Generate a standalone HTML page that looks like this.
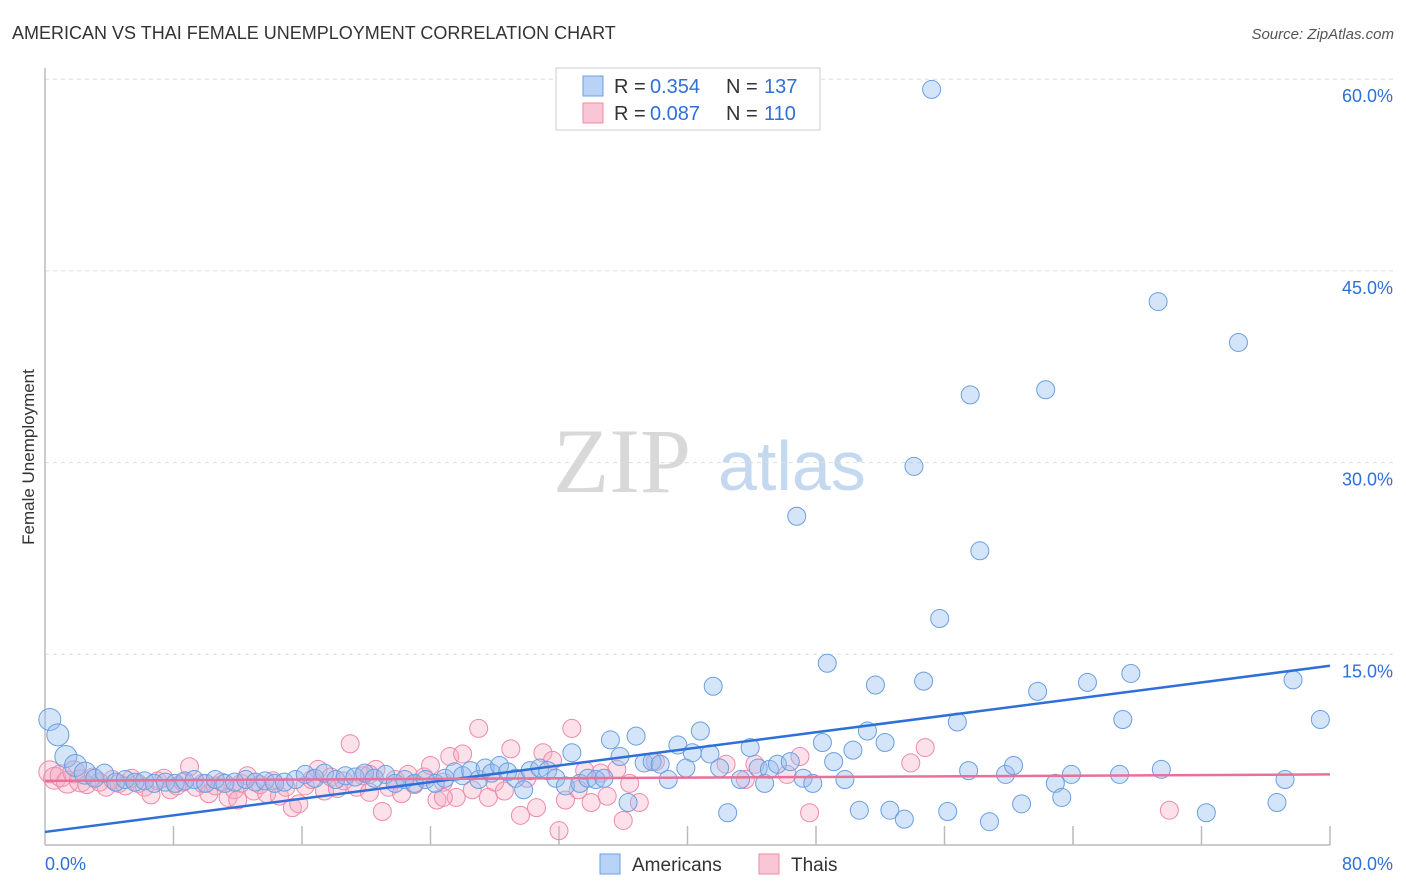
<!DOCTYPE html>
<html><head><meta charset="utf-8"><style>
body{margin:0;background:#fff;font-family:"Liberation Sans",sans-serif;}
svg{display:block}
</style></head><body>
<svg id="chart" width="1406" height="892">
<text x="12" y="39" font-size="18" fill="#333">AMERICAN VS THAI FEMALE UNEMPLOYMENT CORRELATION CHART</text>
<text x="1394" y="39" font-size="15" font-style="italic" fill="#555" text-anchor="end">Source: ZipAtlas.com</text>
<text x="34" y="457" font-size="17" fill="#333" text-anchor="middle" transform="rotate(-90 34 457)">Female Unemployment</text>
<g>
<text x="553" y="492" font-size="92" font-family="Liberation Serif,serif" fill="#d8d8d8">ZIP</text>
<text x="718" y="490" font-size="70" fill="#c4d8f0">atlas</text>
</g>
<g id="grid"></g>
<g id="axes"></g>
<g id="pts"></g>
<g id="lines"></g>
<g>
<rect x="556" y="68" width="264" height="62" fill="#fff" stroke="#ccc"/>
<rect x="583" y="76" width="20" height="20" fill="#b8d3f5" stroke="#6a9fe0"/>
<rect x="583" y="103" width="20" height="20" fill="#f9c6d5" stroke="#ee8aa8"/>
<g font-size="20" fill="#333">
<text x="614" y="93">R =</text><text x="650" y="93" fill="#2f6fd8">0.354</text><text x="726" y="93">N =</text><text x="764" y="93" fill="#2f6fd8">137</text>
</g>
<g font-size="20" fill="#333">
<text x="614" y="120">R =</text><text x="650" y="120" fill="#2f6fd8">0.087</text><text x="726" y="120">N =</text><text x="764" y="120" fill="#2f6fd8">110</text>
</g>
</g>
<g>
<rect x="600" y="854" width="20" height="20" fill="#b8d3f5" stroke="#6a9fe0"/>
<text x="632" y="871" font-size="19" fill="#333">Americans</text>
<rect x="759" y="854" width="20" height="20" fill="#f9c6d5" stroke="#ee8aa8"/>
<text x="791" y="871" font-size="19" fill="#333">Thais</text>
</g>
</svg>
<script>
const yTicks=[15,30,45,60];
const yTickLabels=["15.0%","30.0%","45.0%","60.0%"];
const xTickValues=[0,8,16,24,32,40,48,56,64,72,80];
const xEndLabels=["0.0%","80.0%"];
const americans=[[0.3,9.9],[0.8,8.7],[1.3,7.0],[1.9,6.3],[2.5,5.7],[3.1,5.3],[3.7,5.7],[4.4,5.0],[5.0,5.2],[5.6,5.0],[6.2,5.1],[6.8,4.9],[7.5,5.0],[8.1,4.9],[8.7,5.1],[9.3,5.2],[10.0,4.9],[10.6,5.2],[11.2,4.9],[11.8,5.0],[12.5,5.2],[13.1,5.0],[13.7,5.1],[14.3,4.9],[14.9,5.0],[15.6,5.2],[16.2,5.6],[16.8,5.3],[17.4,5.7],[18.1,5.2],[18.7,5.5],[19.3,5.4],[19.9,5.7],[20.5,5.3],[21.2,5.6],[21.8,4.9],[22.4,5.2],[23.0,4.9],[23.7,5.2],[24.3,4.9],[24.9,5.3],[25.5,5.8],[26.0,5.5],[26.5,5.9],[27.0,5.2],[27.4,6.1],[27.8,5.7],[28.3,6.3],[28.8,5.8],[29.3,5.3],[29.8,4.4],[30.2,5.9],[30.8,6.1],[31.3,5.9],[31.8,5.3],[32.4,4.7],[32.8,7.3],[33.3,4.9],[33.8,5.3],[34.3,5.2],[34.8,5.3],[35.2,8.3],[35.8,7.0],[36.3,3.4],[36.8,8.6],[37.3,6.5],[37.8,6.6],[38.3,6.4],[38.8,5.2],[39.4,7.9],[39.9,6.1],[40.3,7.3],[40.8,9.0],[41.4,7.2],[41.6,12.5],[42.0,6.1],[42.5,2.6],[43.3,5.2],[43.9,7.7],[44.4,6.1],[44.8,4.9],[45.1,6.0],[45.6,6.4],[46.4,6.6],[46.8,25.8],[47.2,5.3],[47.8,4.9],[48.4,8.1],[48.7,14.3],[49.1,6.6],[49.8,5.2],[50.3,7.5],[50.7,2.8],[51.2,9.0],[51.7,12.6],[52.3,8.1],[52.6,2.8],[53.5,2.1],[54.1,29.7],[54.7,12.9],[55.2,59.2],[55.7,17.8],[56.2,2.7],[56.8,9.7],[57.5,5.9],[57.6,35.3],[58.2,23.1],[58.8,1.9],[59.8,5.6],[60.3,6.3],[60.8,3.3],[61.8,12.1],[62.3,35.7],[62.9,4.9],[63.3,3.8],[63.9,5.6],[64.9,12.8],[66.9,5.6],[67.1,9.9],[67.6,13.5],[69.3,42.6],[69.5,6.0],[72.3,2.6],[74.3,39.4],[76.7,3.4],[77.2,5.2],[77.7,13.0],[79.4,9.9]];
const thais=[[0.3,5.8],[0.6,5.3],[1.0,5.5],[1.4,5.0],[1.8,5.8],[2.2,5.1],[2.6,4.8],[3.0,5.4],[3.4,5.0],[3.8,4.6],[4.2,5.2],[4.6,4.9],[5.0,4.7],[5.4,5.3],[5.8,4.9],[6.2,4.6],[6.6,4.0],[7.0,5.1],[7.4,5.3],[7.8,4.4],[8.2,4.7],[8.6,5.0],[9.0,6.2],[9.4,4.6],[9.8,4.9],[10.2,4.1],[10.6,4.7],[11.0,5.0],[11.4,3.8],[11.8,4.4],[12.2,4.9],[12.6,5.5],[13.0,4.3],[13.4,4.8],[13.8,4.1],[14.2,5.1],[14.6,3.9],[15.0,4.6],[15.4,3.0],[15.8,3.3],[16.2,4.7],[16.6,5.2],[17.0,6.0],[17.4,4.3],[17.8,5.4],[18.2,4.5],[18.6,5.1],[19.0,8.0],[19.4,4.6],[19.8,5.5],[20.2,4.2],[20.6,6.0],[21.0,2.7],[21.4,4.6],[21.8,5.2],[22.2,4.1],[22.6,5.6],[23.0,4.8],[23.6,5.4],[24.0,6.3],[24.4,3.6],[24.8,5.0],[25.2,7.0],[25.6,3.8],[26.0,7.2],[26.6,4.4],[27.0,9.2],[27.6,3.8],[28.0,5.0],[28.6,4.3],[29.0,7.6],[29.6,2.4],[30.0,5.3],[30.6,3.0],[31.0,7.3],[31.6,6.7],[32.0,1.2],[32.4,3.6],[32.8,9.2],[33.2,4.4],[33.6,5.9],[34.0,3.4],[34.6,5.7],[35.0,3.9],[35.6,6.0],[36.0,2.0],[36.4,4.9],[37.0,3.4],[38.0,6.6],[42.4,6.4],[43.6,5.2],[44.2,6.4],[46.2,5.6],[47.0,7.0],[47.6,2.6],[53.9,6.5],[54.8,7.7],[70.0,2.8],[20.2,5.6],[24.8,3.8],[12.0,3.6]];
const blueTrend=[1.1,14.1];
const pinkTrend=[5.1,5.6];
const NS="http://www.w3.org/2000/svg";
const X0=45,X1=1330,Y0=846,PXPER=191.7/15;
function sx(v){return X0+(X1-X0)*v/80;}
function sy(v){return Y0-v*PXPER;}
function mk(tag,attrs,parent){const e=document.createElementNS(NS,tag);for(const k in attrs)e.setAttribute(k,attrs[k]);parent.appendChild(e);return e;}
const grid=document.getElementById('grid'),axes=document.getElementById('axes'),pts=document.getElementById('pts'),lines=document.getElementById('lines');
yTicks.forEach((t,i)=>{
 const l=mk('line',{x1:X0,x2:1395,y1:sy(t),y2:sy(t),stroke:'#ddd','stroke-dasharray':'4,4'},grid);
 
 
 const tx=mk('text',{x:1393,y:sy(t)+23,'font-size':18,fill:'#2f6fd8','text-anchor':'end'},grid);
 tx.textContent=yTickLabels[i];
 
 
});
const ax=mk('line',{x1:X0,x2:X1,y1:845,y2:845,stroke:'#bbb','stroke-width':1.5},axes);


const ay=mk('line',{x1:X0,x2:X0,y1:68,y2:845,stroke:'#bbb','stroke-width':1.5},axes);


xTickValues.forEach(v=>{
 if(v===0)return;
 const t=mk('line',{x1:sx(v),x2:sx(v),y1:826,y2:845,stroke:'#bbb','stroke-width':1.5},axes);
 
 
});
const xl0=mk('text',{x:45,y:870,'font-size':18,fill:'#2f6fd8'},axes);xl0.textContent=xEndLabels[0];


const xl1=mk('text',{x:1393,y:870,'font-size':18,fill:'#2f6fd8','text-anchor':'end'},axes);xl1.textContent=xEndLabels[1];


thais.forEach((d,i)=>{
 const c=mk('circle',{cx:sx(d[0]),cy:sy(d[1]),r:i<6?11:9,fill:'rgba(247,170,195,0.35)',stroke:'#ee8aa8','stroke-width':1},pts);
 
 
});
americans.forEach((d,i)=>{
 const c=mk('circle',{cx:sx(d[0]),cy:sy(d[1]),r:i<5?11:9,fill:'rgba(150,190,240,0.4)',stroke:'#6a9fe0','stroke-width':1},pts);
 
 
});
const bl=mk('line',{x1:sx(0),x2:sx(80),y1:sy(blueTrend[0]),y2:sy(blueTrend[1]),stroke:'#2f6fd8','stroke-width':2.5},lines);


const pl=mk('line',{x1:sx(0),x2:sx(80),y1:sy(pinkTrend[0]),y2:sy(pinkTrend[1]),stroke:'#e8709a','stroke-width':2.5},lines);


</script>
</body></html>
